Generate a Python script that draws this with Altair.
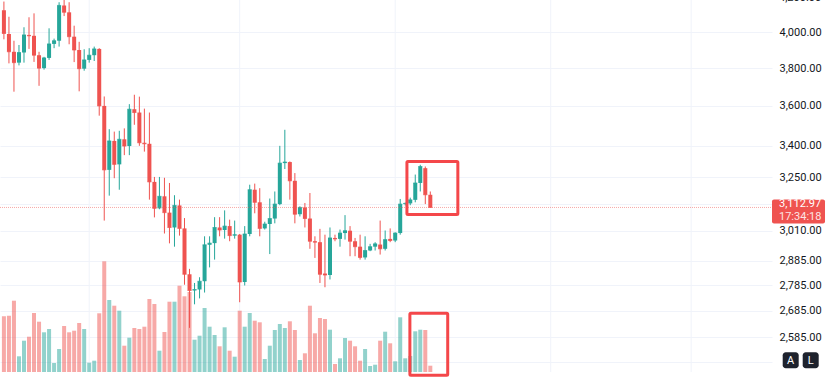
import altair as alt
import pandas as pd

# ---------------- data ----------------
dates = pd.date_range("2025-10-15", "2026-01-08", freq="D").strftime("%Y-%m-%d").tolist()

opens = [4128, 3990, 3890, 3830, 3886, 3985, 3980, 3871, 3800, 3856, 3934, 3952, 4157, 4116, 3975, 3900, 3797,
         3845, 3871, 3906, 3600, 3285, 3424, 3311, 3432, 3399, 3583, 3566, 3415, 3410, 3229, 3109, 3163, 3090,
         3025, 3122, 3021, 2829, 2764, 2768, 2801, 2951, 2958, 3025, 3014, 3031, 2990, 2994, 2798, 2997, 3193,
         3136, 3021, 3040, 3064, 3128, 3317, 3322, 3234, 3083, 3113, 3064, 2966, 2962, 2832, 2826, 2980, 2976,
         3001, 3011, 2966, 2943, 2898, 2927, 2943, 2952, 2934, 2976, 2969, 3001, 3128, 3131, 3147, 3224, 3293,
         3170]
highs = [4180, 4090, 3952, 3928, 4029, 4087, 4110, 3890, 3862, 4023, 3964, 4176, 4205, 4176, 4038, 3946, 3904,
         3910, 3919, 3910, 3649, 3482, 3470, 3474, 3486, 3609, 3658, 3648, 3586, 3566, 3252, 3252, 3248, 3224,
         3168, 3148, 3066, 2851, 2794, 2817, 2987, 2987, 3070, 3070, 3100, 3059, 3055, 2997, 3031, 3216, 3221,
         3200, 3050, 3153, 3185, 3400, 3479, 3325, 3270, 3118, 3133, 3178, 2987, 3019, 2994, 3025, 2994, 3016,
         3079, 3031, 2980, 2994, 2987, 2955, 2962, 3055, 3012, 3021, 3004, 3151, 3135, 3157, 3263, 3309, 3301,
         3185]
lows = [3960, 3826, 3674, 3815, 3830, 3906, 3834, 3705, 3792, 3845, 3910, 3919, 4094, 3932, 3833, 3676, 3786,
        3830, 3839, 3550, 3055, 3166, 3246, 3193, 3355, 3355, 3504, 3400, 3372, 3148, 3069, 3105, 2999, 2957,
        2943, 2990, 2787, 2620, 2710, 2733, 2756, 2857, 2889, 2987, 2977, 2966, 2977, 2718, 2784, 2987, 3087,
        2987, 3016, 2912, 3043, 3123, 3289, 3148, 3043, 3073, 3025, 2934, 2896, 2794, 2777, 2808, 2966, 2943,
        2973, 2903, 2903, 2889, 2889, 2924, 2927, 2910, 2927, 2962, 2962, 2994, 3122, 3123, 3136, 3185, 3128,
        3112]
closes = [3993, 3890, 3830, 3886, 3985, 3980, 3871, 3800, 3856, 3934, 3952, 4157, 4116, 3975, 3900, 3797, 3845,
          3871, 3906, 3600, 3285, 3424, 3311, 3432, 3399, 3583, 3566, 3415, 3410, 3229, 3109, 3163, 3090, 3025,
          3122, 3021, 2829, 2764, 2768, 2801, 2951, 2958, 3025, 3014, 3031, 2990, 2994, 2798, 2997, 3193, 3136,
          3021, 3040, 3064, 3128, 3317, 3322, 3234, 3083, 3113, 3064, 2966, 2962, 2829, 2826, 2980, 2976, 3001,
          3011, 2966, 2943, 2898, 2927, 2943, 2955, 2934, 2973, 2969, 3001, 3128, 3131, 3147, 3224, 3301, 3170,
          3112.97]
volumes = [557, 563, 713, 157, 313, 353, 590, 503, 397, 430, 90, 230, 460, 397, 413, 490, 430,
           93, 113, 587, 1107, 720, 663, 613, 263, 343, 440, 430, 453, 730, 680, 213, 400, 703,
           703, 863, 757, 800, 323, 363, 640, 453, 370, 257, 447, 213, 153, 613, 453, 590, 513,
           497, 130, 263, 420, 480, 440, 507, 420, 120, 187, 663, 387, 540, 530, 423, 80, 137,
           340, 313, 257, 113, 230, 60, 73, 313, 403, 287, 107, 547, 137, 160, 407, 423, 420,
           63]

month_starts = ["2025-11-01", "2025-12-01", "2026-01-01", "2026-02-01", "2026-03-01"]
price_ticks = [4000, 3800, 3600, 3400, 3250, 3130, 3010, 2885, 2785, 2685, 2585, 2495]
hidden_ticks = [3130, 2495]
top_tick = 4200
last_price = 3112.97
last_time = "17:34:18"

# annotation boxes (days after 2025-11-01, price / volume extents)
box_price_days = [63.34, 73.49]
box_price_range = [3324.6, 3081.6]
box_vol_days = [63.93, 71.47]
box_vol_range = [588, -32]

# ---------------- styling ----------------
UP, DOWN = "#26a69a", "#ef5350"
GRID = "#f0f3fa"
BOX = "#f4474a"
FONT = "Roboto"
W, H = 772, 372

DAY = 86400000
T0 = int(pd.Timestamp("2025-11-01", tz="UTC").value // 10**6)
x_scale = alt.Scale(domain=[T0 - 16.785 * DAY, T0 + 135.12 * DAY])
y_scale = alt.Scale(type="log", domain=[2459.7, 4189.3], nice=False)
v_scale = alt.Scale(domain=[0, 3720], nice=False)
color_scale = alt.Scale(domain=["up", "down"], range=[UP, DOWN])

df = pd.DataFrame(dict(date=dates, open=opens, high=highs, low=lows, close=closes, volume=volumes))
df["dir"] = ["up" if c >= o else "down" for o, c in zip(opens, closes)]

y_axis = alt.Axis(
    orient="right", values=price_ticks, format=",.2f",
    labelExpr="indexof(%s, datum.value) >= 0 ? '' : datum.label" % str(hidden_ticks),
    grid=True, gridColor=GRID, gridWidth=1, domain=False, ticks=False,
    labelPadding=7, labelFont=FONT, labelFontSize=11, labelColor="#131722",
    labelOverlap=False, title=None,
)

X = alt.X("date:T", scale=x_scale, axis=None)
C = alt.Color("dir:N", scale=color_scale, legend=None)

# volume pane
vgrid = alt.Chart(pd.DataFrame({"date": month_starts})).mark_rule(stroke=GRID, strokeWidth=1).encode(
    x=X, y=alt.value(0), y2=alt.value(H))
vol = alt.Chart(df).mark_bar(size=4, opacity=0.5, clip=True).encode(
    x=X, y=alt.Y("volume:Q", scale=v_scale, axis=None), color=C)
box2_df = pd.DataFrame({"x": [T0 + box_vol_days[0] * DAY], "x2": [T0 + box_vol_days[1] * DAY],
                        "v": [box_vol_range[0]], "v2": [box_vol_range[1]]})
box2 = alt.Chart(box2_df).mark_rect(fill=None, stroke=BOX, strokeWidth=3, cornerRadius=1).encode(
    x=alt.X("x:T", scale=x_scale, axis=None), x2="x2:T",
    y=alt.Y("v:Q", scale=v_scale, axis=None), y2="v2:Q")
vol_layer = alt.layer(vgrid, vol, box2)

# price pane
wick = alt.Chart(df).mark_rule(strokeWidth=1, clip=True).encode(
    x=X, y=alt.Y("low:Q", scale=y_scale, axis=y_axis), y2="high:Q", color=C)
body = alt.Chart(df).mark_bar(size=4, clip=True).encode(
    x=X, y=alt.Y("open:Q", scale=y_scale), y2="close:Q", color=C)
tick = alt.Chart(df).mark_tick(orient="horizontal", size=4, thickness=1, clip=True).encode(
    x=X, y=alt.Y("close:Q", scale=y_scale), color=C)

# top label (outside the scale domain, partly cut like the reference)
tdf = pd.DataFrame({"v": [top_tick], "lab": [f"{top_tick:,.2f}"]})
top_lab = alt.Chart(tdf).mark_text(font=FONT, fontSize=11, color="#131722", align="left",
                                   baseline="middle").encode(
    y=alt.Y("v:Q", scale=y_scale), x=alt.value(779), text="lab:N")

pdf = pd.DataFrame({"price": [last_price], "p": [f"{last_price:,.2f}"], "t": [last_time]})
pline = alt.Chart(pdf).mark_rule(stroke=DOWN, strokeDash=[1, 1], strokeWidth=1, opacity=0.5).encode(
    y=alt.Y("price:Q", scale=y_scale), x=alt.value(0), x2=alt.value(W))

box1_df = pd.DataFrame({"x": [T0 + box_price_days[0] * DAY], "x2": [T0 + box_price_days[1] * DAY],
                        "p": [box_price_range[0]], "p2": [box_price_range[1]]})
box1 = alt.Chart(box1_df).mark_rect(fill=None, stroke=BOX, strokeWidth=3, cornerRadius=1).encode(
    x=alt.X("x:T", scale=x_scale, axis=None), x2="x2:T",
    y=alt.Y("p:Q", scale=y_scale), y2="p2:Q")

tag = alt.Chart(pdf).mark_rect(fill=DOWN, yOffset=-8, y2Offset=16, cornerRadius=2).encode(
    y=alt.Y("price:Q", scale=y_scale), y2="price:Q", x=alt.value(W), x2=alt.value(825))
tag_p = alt.Chart(pdf).mark_text(font=FONT, fontSize=11, color="white", align="left", baseline="middle",
                                 dy=-3).encode(y=alt.Y("price:Q", scale=y_scale), x=alt.value(779), text="p:N")
tag_t = alt.Chart(pdf).mark_text(font=FONT, fontSize=11, color="white", opacity=0.85, align="left",
                                 baseline="middle", dy=10).encode(
    y=alt.Y("price:Q", scale=y_scale), x=alt.value(779), text="t:N")

price_layer = alt.layer(wick, body, tick, top_lab, pline, box1, tag, tag_p, tag_t)

# corner buttons
btns = []
for lab, x0 in [("A", 782.7), ("L", 802.7)]:
    bd = pd.DataFrame({"t": [lab]})
    btns.append(alt.Chart(bd).mark_rect(fill="#1e222d", cornerRadius=3).encode(
        x=alt.value(x0), x2=alt.value(x0 + 16), y=alt.value(352.3), y2=alt.value(368.3)))
    btns.append(alt.Chart(bd).mark_text(font=FONT, fontSize=11, color="white", align="center",
                                        baseline="middle").encode(
        x=alt.value(x0 + 8), y=alt.value(360.5), text="t:N"))

chart = alt.layer(vol_layer, price_layer, *btns).resolve_scale(y="independent").properties(
    width=W, height=H,
    autosize=alt.AutoSizeParams(type="none"),
    padding={"left": 0, "top": 0, "right": 60, "bottom": 6},
    background="white",
).configure_view(stroke=None)

chart.save("out.html", embed_options={"renderer": "svg", "actions": False})
